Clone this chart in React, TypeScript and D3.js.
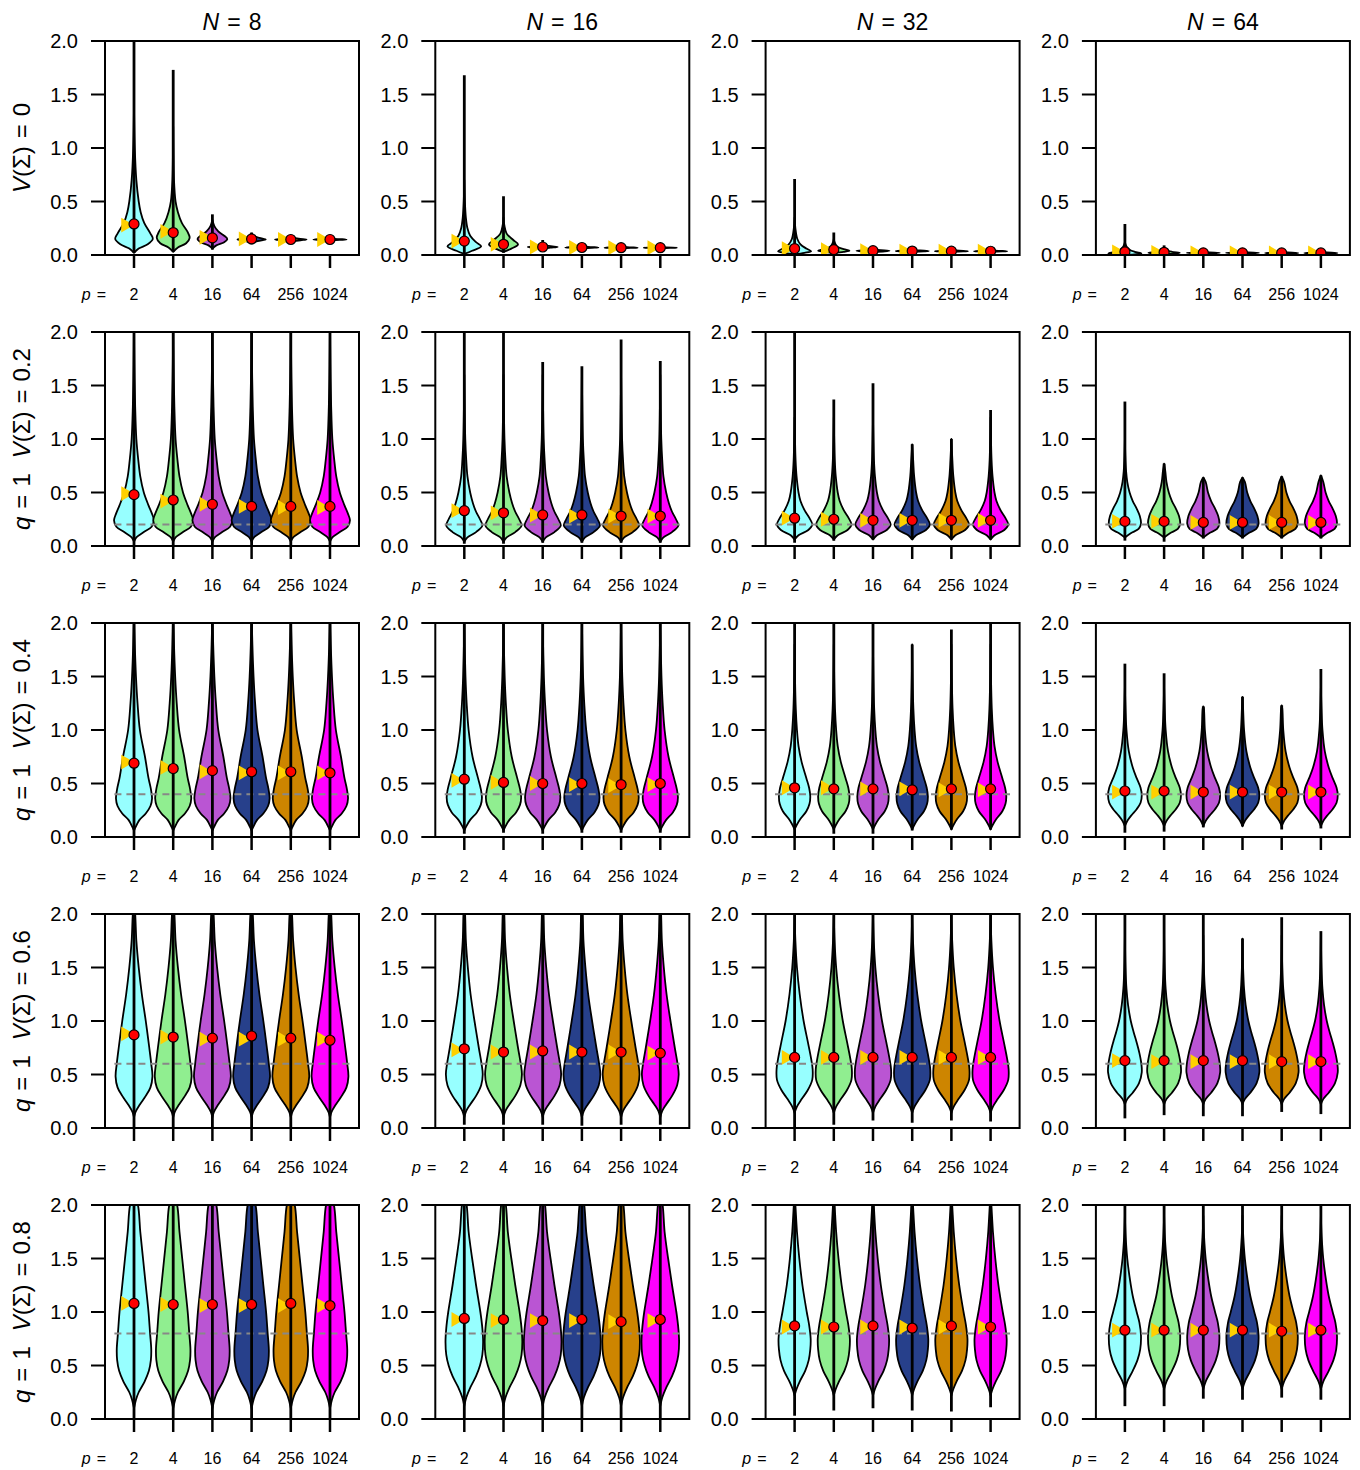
import React from "react";
import * as d3 from "d3";

type Pt = [number, number];

const pLabels = ["2", "4", "16", "64", "256", "1024"];
const nLabels = ["8", "16", "32", "64"];
const trueVals = [0, 0.2, 0.4, 0.6, 0.8];
const violinFills = ["#97FFFF", "#90EE90", "#BA55D3", "#27408B", "#CD8500", "#FF00FF"];
const yTicks = [0, 0.5, 1, 1.5, 2];

// [row][col][p] : red dot (mean)
const meanVals = [
  [[0.29, 0.21, 0.16, 0.15, 0.145, 0.145], [0.13, 0.1, 0.075, 0.07, 0.068, 0.068], [0.06, 0.05, 0.04, 0.037, 0.036, 0.035], [0.03, 0.025, 0.02, 0.02, 0.019, 0.019]],
  [[0.48, 0.43, 0.39, 0.37, 0.37, 0.37], [0.33, 0.31, 0.29, 0.29, 0.28, 0.28], [0.26, 0.25, 0.24, 0.24, 0.24, 0.24], [0.23, 0.23, 0.22, 0.22, 0.22, 0.22]],
  [[0.69, 0.64, 0.62, 0.61, 0.61, 0.6], [0.54, 0.51, 0.5, 0.5, 0.49, 0.5], [0.46, 0.45, 0.45, 0.44, 0.45, 0.45], [0.43, 0.43, 0.42, 0.42, 0.42, 0.42]],
  [[0.87, 0.85, 0.84, 0.86, 0.84, 0.82], [0.74, 0.71, 0.72, 0.71, 0.71, 0.7], [0.66, 0.66, 0.66, 0.66, 0.66, 0.66], [0.63, 0.63, 0.63, 0.63, 0.62, 0.62]],
  [[1.08, 1.07, 1.07, 1.07, 1.08, 1.06], [0.94, 0.93, 0.92, 0.93, 0.91, 0.93], [0.87, 0.86, 0.87, 0.85, 0.87, 0.86], [0.83, 0.83, 0.83, 0.83, 0.82, 0.83]],
];

// [row][col][p] : yellow triangle
const triVals = [
  [[0.28, 0.22, 0.165, 0.15, 0.145, 0.145], [0.13, 0.1, 0.075, 0.07, 0.068, 0.068], [0.06, 0.05, 0.04, 0.037, 0.036, 0.035], [0.03, 0.025, 0.02, 0.02, 0.019, 0.019]],
  [[0.49, 0.42, 0.39, 0.37, 0.36, 0.36], [0.33, 0.31, 0.29, 0.28, 0.28, 0.28], [0.26, 0.25, 0.24, 0.24, 0.24, 0.24], [0.23, 0.23, 0.22, 0.22, 0.22, 0.22]],
  [[0.7, 0.65, 0.61, 0.6, 0.6, 0.6], [0.53, 0.51, 0.5, 0.49, 0.48, 0.49], [0.46, 0.46, 0.45, 0.45, 0.44, 0.44], [0.42, 0.42, 0.42, 0.42, 0.42, 0.42]],
  [[0.88, 0.85, 0.83, 0.83, 0.83, 0.83], [0.73, 0.71, 0.71, 0.71, 0.71, 0.7], [0.66, 0.66, 0.66, 0.66, 0.66, 0.66], [0.63, 0.62, 0.62, 0.62, 0.62, 0.62]],
  [[1.08, 1.07, 1.06, 1.06, 1.06, 1.06], [0.93, 0.92, 0.92, 0.92, 0.91, 0.92], [0.86, 0.86, 0.86, 0.86, 0.86, 0.86], [0.83, 0.83, 0.83, 0.83, 0.83, 0.83]],
];

// whisker ends
const minVals = [
  [[0.02, 0.03, 0.05, 0.1, 0.12, 0.13], [0.0, 0.02, 0.06, 0.06, 0.062, 0.062], [0.0, 0.02, 0.025, 0.03, 0.03, 0.03], [0.0, 0.01, 0.012, 0.012, 0.012, 0.012]],
  [[0, 0, 0, 0, 0, 0], [0.02, 0.02, 0.03, 0.03, 0.03, 0.03], [0.03, 0.05, 0.06, 0.06, 0.06, 0.06], [0.05, 0.04, 0.07, 0.07, 0.07, 0.07]],
  [[0, 0, 0, 0, 0, 0], [0.03, 0.04, 0.03, 0.04, 0.04, 0.04], [0.0, 0.03, 0.03, 0.06, 0.07, 0.07], [0.04, 0.05, 0.09, 0.1, 0.07, 0.08]],
  [[0, 0, 0, 0, 0, 0], [0.03, 0.03, 0.03, 0.02, 0.03, 0.03], [0.0, 0.03, 0.07, 0.05, 0.07, 0.06], [0.09, 0.12, 0.11, 0.11, 0.15, 0.13]],
  [[0, 0, 0, 0, 0, 0], [0, 0, 0, 0, 0, 0], [0.03, 0.08, 0.1, 0.08, 0.07, 0.11], [0.12, 0.12, 0.19, 0.18, 0.2, 0.18]],
];
const maxVals = [
  [[2.1, 1.73, 0.38, 0.21, 0.17, 0.16], [1.68, 0.55, 0.14, 0.09, 0.085, 0.085], [0.71, 0.21, 0.06, 0.05, 0.045, 0.045], [0.29, 0.09, 0.04, 0.035, 0.03, 0.03]],
  [[2.1, 2.1, 2.1, 2.1, 2.1, 2.1], [2.1, 2.1, 1.72, 1.68, 1.93, 1.73], [2.1, 1.37, 1.52, 0.95, 1.0, 1.27], [1.35, 0.77, 0.64, 0.64, 0.65, 0.66]],
  [[2.1, 2.1, 2.1, 2.1, 2.1, 2.1], [2.1, 2.1, 2.1, 2.1, 2.1, 2.1], [2.1, 2.1, 2.1, 1.8, 1.94, 2.1], [1.62, 1.53, 1.22, 1.31, 1.23, 1.57]],
  [[2.1, 2.1, 2.1, 2.1, 2.1, 2.1], [2.1, 2.1, 2.1, 2.1, 2.1, 2.1], [2.1, 2.1, 2.1, 2.1, 2.1, 2.1], [2.1, 2.1, 2.1, 1.77, 1.97, 1.84]],
  [[2.1, 2.1, 2.1, 2.1, 2.1, 2.1], [2.1, 2.1, 2.1, 2.1, 2.1, 2.1], [2.1, 2.1, 2.1, 2.1, 2.1, 2.1], [2.1, 2.1, 2.1, 2.1, 2.1, 2.1]],
];

// violin outlines for V(Sigma)=0 row: [col][p] -> [value, half width (in category units)]
const topRowBodies: Pt[][][] = [
  [
    [[0.02, 0], [0.06, 0.12], [0.1, 0.35], [0.15, 0.48], [0.2, 0.42], [0.3, 0.26], [0.4, 0.17], [0.5, 0.12], [0.7, 0.06], [1.0, 0.02], [1.4, 0]],
    [[0.03, 0], [0.07, 0.12], [0.11, 0.33], [0.16, 0.42], [0.22, 0.36], [0.3, 0.22], [0.4, 0.12], [0.5, 0.06], [0.7, 0.02], [1.0, 0.005], [1.2, 0]],
    [[0.06, 0], [0.09, 0.1], [0.12, 0.3], [0.15, 0.38], [0.18, 0.3], [0.22, 0.15], [0.27, 0.05], [0.33, 0]],
    [[0.11, 0], [0.13, 0.15], [0.145, 0.36], [0.16, 0.2], [0.18, 0.05], [0.2, 0]],
    [[0.125, 0], [0.138, 0.25], [0.145, 0.4], [0.152, 0.2], [0.165, 0]],
    [[0.135, 0], [0.141, 0.25], [0.145, 0.42], [0.149, 0.2], [0.155, 0]],
  ],
  [
    [[0.01, 0], [0.04, 0.2], [0.08, 0.43], [0.12, 0.3], [0.18, 0.15], [0.25, 0.08], [0.35, 0.04], [0.5, 0.015], [0.7, 0]],
    [[0.03, 0], [0.06, 0.2], [0.1, 0.37], [0.14, 0.25], [0.2, 0.08], [0.28, 0.02], [0.35, 0]],
    [[0.06, 0], [0.068, 0.2], [0.075, 0.38], [0.085, 0.15], [0.1, 0.03], [0.12, 0]],
    [[0.062, 0], [0.067, 0.25], [0.07, 0.42], [0.076, 0.15], [0.085, 0]],
    [[0.062, 0], [0.066, 0.25], [0.068, 0.42], [0.073, 0.15], [0.08, 0]],
    [[0.063, 0], [0.066, 0.25], [0.068, 0.42], [0.071, 0.15], [0.076, 0]],
  ],
  [
    [[0.005, 0], [0.02, 0.25], [0.035, 0.42], [0.06, 0.3], [0.1, 0.15], [0.15, 0.07], [0.25, 0.02], [0.35, 0]],
    [[0.02, 0], [0.03, 0.25], [0.04, 0.4], [0.055, 0.25], [0.08, 0.08], [0.12, 0.02], [0.15, 0]],
    [[0.03, 0], [0.035, 0.3], [0.04, 0.42], [0.045, 0.2], [0.05, 0]],
    [[0.03, 0], [0.034, 0.3], [0.037, 0.42], [0.042, 0.2], [0.048, 0]],
    [[0.03, 0], [0.033, 0.3], [0.036, 0.42], [0.04, 0.2], [0.045, 0]],
    [[0.03, 0], [0.033, 0.3], [0.035, 0.42], [0.039, 0.2], [0.044, 0]],
  ],
  [
    [[0.0, 0], [0.008, 0.3], [0.015, 0.42], [0.03, 0.25], [0.05, 0.12], [0.08, 0.04], [0.12, 0]],
    [[0.01, 0], [0.015, 0.3], [0.02, 0.4], [0.03, 0.2], [0.045, 0.05], [0.06, 0]],
    [[0.012, 0], [0.016, 0.3], [0.02, 0.42], [0.025, 0.15], [0.03, 0]],
    [[0.012, 0], [0.016, 0.3], [0.02, 0.42], [0.025, 0.15], [0.03, 0]],
    [[0.012, 0], [0.015, 0.3], [0.019, 0.42], [0.024, 0.15], [0.028, 0]],
    [[0.012, 0], [0.015, 0.3], [0.019, 0.42], [0.024, 0.15], [0.028, 0]],
  ],
];

// violin outlines for q = 1 rows, shared by the six p in a panel: [row-1][col]
const panelBodies: Pt[][][] = [
  [
    [[0.04, 0], [0.08, 0.06], [0.13, 0.25], [0.18, 0.45], [0.24, 0.51], [0.3, 0.46], [0.38, 0.37], [0.5, 0.25], [0.65, 0.16], [0.8, 0.11], [1.0, 0.06], [1.3, 0.03], [1.7, 0.01], [2.1, 0]],
    [[0.04, 0], [0.08, 0.08], [0.13, 0.3], [0.19, 0.46], [0.25, 0.4], [0.32, 0.3], [0.4, 0.22], [0.5, 0.15], [0.65, 0.08], [0.8, 0.05], [1.0, 0.025], [1.3, 0.01], [1.6, 0]],
    [[0.06, 0], [0.1, 0.1], [0.15, 0.35], [0.2, 0.45], [0.26, 0.38], [0.33, 0.26], [0.42, 0.15], [0.5, 0.1], [0.65, 0.05], [0.8, 0.025], [1.0, 0.01], [1.2, 0]],
    [[0.08, 0], [0.12, 0.15], [0.16, 0.35], [0.21, 0.41], [0.28, 0.38], [0.35, 0.3], [0.42, 0.2], [0.5, 0.12], [0.6, 0.06], [0.7, 0.03], [0.85, 0.01], [1.0, 0]],
  ],
  [
    [[0.06, 0], [0.1, 0.05], [0.16, 0.14], [0.22, 0.3], [0.29, 0.42], [0.36, 0.46], [0.45, 0.43], [0.55, 0.37], [0.75, 0.28], [1.0, 0.15], [1.25, 0.09], [1.5, 0.05], [1.8, 0.02], [2.1, 0]],
    [[0.06, 0], [0.1, 0.05], [0.16, 0.15], [0.23, 0.32], [0.3, 0.42], [0.37, 0.45], [0.45, 0.42], [0.55, 0.35], [0.75, 0.21], [1.0, 0.11], [1.25, 0.06], [1.5, 0.03], [1.8, 0.01], [2.1, 0]],
    [[0.07, 0], [0.11, 0.05], [0.17, 0.15], [0.24, 0.3], [0.31, 0.38], [0.38, 0.4], [0.46, 0.37], [0.55, 0.3], [0.7, 0.18], [0.85, 0.1], [1.0, 0.06], [1.2, 0.03], [1.5, 0.01], [1.8, 0]],
    [[0.1, 0], [0.15, 0.06], [0.2, 0.16], [0.26, 0.3], [0.32, 0.4], [0.39, 0.43], [0.46, 0.4], [0.55, 0.3], [0.65, 0.2], [0.8, 0.1], [1.0, 0.04], [1.2, 0.015], [1.4, 0]],
  ],
  [
    [[0.1, 0], [0.15, 0.04], [0.22, 0.15], [0.3, 0.3], [0.38, 0.42], [0.48, 0.47], [0.6, 0.44], [0.75, 0.39], [1.0, 0.3], [1.25, 0.2], [1.5, 0.12], [1.75, 0.06], [2.0, 0.03], [2.2, 0]],
    [[0.1, 0], [0.16, 0.05], [0.22, 0.15], [0.3, 0.3], [0.4, 0.43], [0.5, 0.47], [0.6, 0.44], [0.75, 0.37], [1.0, 0.26], [1.25, 0.16], [1.5, 0.09], [1.75, 0.04], [2.0, 0.02], [2.2, 0]],
    [[0.14, 0], [0.2, 0.06], [0.27, 0.18], [0.35, 0.33], [0.45, 0.45], [0.55, 0.46], [0.65, 0.42], [0.8, 0.34], [1.0, 0.23], [1.25, 0.13], [1.5, 0.06], [1.75, 0.02], [2.0, 0]],
    [[0.22, 0], [0.27, 0.06], [0.33, 0.2], [0.42, 0.36], [0.52, 0.43], [0.6, 0.42], [0.7, 0.37], [0.8, 0.3], [0.9, 0.22], [1.0, 0.15], [1.15, 0.08], [1.3, 0.04], [1.5, 0.015], [1.8, 0]],
  ],
  [
    [[0.1, 0], [0.18, 0.05], [0.25, 0.12], [0.35, 0.27], [0.45, 0.38], [0.55, 0.43], [0.65, 0.44], [0.8, 0.41], [1.0, 0.37], [1.25, 0.3], [1.5, 0.23], [1.75, 0.16], [2.0, 0.1], [2.3, 0.04], [2.6, 0]],
    [[0.12, 0], [0.2, 0.05], [0.3, 0.16], [0.4, 0.3], [0.5, 0.4], [0.6, 0.46], [0.72, 0.48], [0.85, 0.46], [1.0, 0.41], [1.25, 0.3], [1.5, 0.2], [1.75, 0.11], [2.0, 0.06], [2.3, 0.02], [2.5, 0]],
    [[0.22, 0], [0.28, 0.05], [0.35, 0.13], [0.45, 0.27], [0.55, 0.36], [0.65, 0.4], [0.75, 0.41], [0.88, 0.37], [1.0, 0.31], [1.25, 0.2], [1.5, 0.12], [1.75, 0.06], [2.0, 0.02], [2.2, 0]],
    [[0.28, 0], [0.35, 0.06], [0.45, 0.2], [0.55, 0.32], [0.65, 0.39], [0.78, 0.41], [0.9, 0.37], [1.0, 0.3], [1.15, 0.2], [1.3, 0.13], [1.5, 0.06], [1.7, 0.02], [1.9, 0]],
  ],
];

const font = "'Liberation Sans', Arial, Helvetica, sans-serif";
const panelW = 254;
const panelH = 214;
const gridLeft = 105;
const gridTop = 41;
const colStep = 330.3;
const rowStep = 291;

const triPath = d3.symbol(d3.symbolTriangle, 95)() as string;

// the density is cut where the sample ends (upper whisker)
function truncate(body: Pt[], hi: number): Pt[] {
  if (hi >= body[body.length - 1][0]) return body;
  const kept = body.filter((d) => d[0] < hi);
  return [...kept, [hi, 0]];
}

function Panel({ row, col }: { row: number; col: number }) {
  const left = gridLeft + col * colStep;
  const top = gridTop + row * rowStep;
  const bottom = top + panelH;
  const x = d3.scaleLinear().domain([0.26, 6.74]).range([left, left + panelW]);
  const y = d3.scaleLinear().domain([0, 2]).range([bottom, top]);
  const step = x(2) - x(1);
  const clipId = `clip-${row}-${col}`;
  const bodies = row === 0 ? topRowBodies[col] : pLabels.map(() => panelBodies[row - 1][col]);

  const violin = (cx: number) =>
    d3
      .area<Pt>()
      .y((d) => y(d[0]))
      .x0((d) => cx - Math.max(0, d[1]) * step)
      .x1((d) => cx + Math.max(0, d[1]) * step)
      .curve(d3.curveCatmullRom.alpha(0.5));

  return (
    <g>
      <defs>
        <clipPath id={clipId}>
          <rect x={left} y={top} width={panelW} height={panelH} />
        </clipPath>
      </defs>
      <g clipPath={`url(#${clipId})`}>
        {pLabels.map((p, i) => {
          const cx = x(i + 1);
          return (
            <path
              key={"v" + p}
              d={violin(cx)(truncate(bodies[i], maxVals[row][col][i])) as string}
              fill={violinFills[i]}
              stroke="#000"
              strokeWidth={1.8}
              strokeLinejoin="round"
            />
          );
        })}
        <line
          x1={x(0.5)}
          x2={x(6.5)}
          y1={y(trueVals[row])}
          y2={y(trueVals[row])}
          stroke="#888888"
          strokeWidth={2}
          strokeDasharray="7,5"
        />
        {pLabels.map((p, i) => (
          <line
            key={"w" + p}
            x1={x(i + 1)}
            x2={x(i + 1)}
            y1={y(minVals[row][col][i])}
            y2={y(maxVals[row][col][i])}
            stroke="#000"
            strokeWidth={2.8}
          />
        ))}
        {pLabels.map((p, i) => {
          const cx = x(i + 1);
          const yt = y(triVals[row][col][i]);
          return (
            <path
              key={"t" + p}
              d={triPath}
              transform={`translate(${cx - 8.5},${yt}) rotate(90)`}
              fill="#FFD000"
            />
          );
        })}
        {pLabels.map((p, i) => (
          <circle
            key={"m" + p}
            cx={x(i + 1)}
            cy={y(meanVals[row][col][i])}
            r={5}
            fill="#FF0000"
            stroke="#000"
            strokeWidth={1.2}
          />
        ))}
      </g>
      <rect x={left} y={top} width={panelW} height={panelH} fill="none" stroke="#000" strokeWidth={2} />
      {yTicks.map((t) => (
        <g key={"y" + t}>
          <line x1={left - 14} x2={left} y1={y(t)} y2={y(t)} stroke="#000" strokeWidth={2} />
          <text x={left - 27} y={y(t)} dy="0.36em" textAnchor="end" fontSize={20} fontFamily={font}>
            {t.toFixed(1)}
          </text>
        </g>
      ))}
      {pLabels.map((p, i) => (
        <g key={"x" + p}>
          <line x1={x(i + 1)} x2={x(i + 1)} y1={bottom + 1} y2={bottom + 13} stroke="#000" strokeWidth={2.5} />
          <text x={x(i + 1)} y={bottom + 45} textAnchor="middle" fontSize={16} fontFamily={font}>
            {p}
          </text>
        </g>
      ))}
      <text x={left + 1} y={bottom + 45} textAnchor="end" fontSize={16} fontFamily={font}>
        <tspan fontStyle="italic">p</tspan>
        <tspan dx={6}>=</tspan>
      </text>
    </g>
  );
}

function RowLabel({ row }: { row: number }) {
  const cy = gridTop + row * rowStep + panelH / 2;
  return (
    <text
      transform={`translate(30,${cy}) rotate(-90)`}
      textAnchor="middle"
      fontSize={24}
      fontFamily={font}
    >
      {row > 0 && (
        <>
          <tspan fontStyle="italic">q</tspan>
          <tspan dx={8}>=</tspan>
          <tspan dx={8}>1</tspan>
        </>
      )}
      <tspan dx={row > 0 ? 15 : 0} fontStyle="italic">V</tspan>
      <tspan>(Σ)</tspan>
      <tspan dx={8}>=</tspan>
      <tspan dx={8}>{trueVals[row] === 0 ? "0" : String(trueVals[row])}</tspan>
    </text>
  );
}

export default function App() {
  return (
    <svg
      width={1360}
      height={1470}
      style={{ position: "absolute", left: 0, top: 0, background: "#fff" }}
    >
      <rect width={1360} height={1470} fill="#fff" />
      {nLabels.map((n, c) => (
        <text
          key={"n" + n}
          x={gridLeft + c * colStep + panelW / 2}
          y={30}
          textAnchor="middle"
          fontSize={23}
          fontFamily={font}
        >
          <tspan fontStyle="italic">N</tspan>
          <tspan dx={8}>=</tspan>
          <tspan dx={8}>{n}</tspan>
        </text>
      ))}
      {trueVals.map((v, r) => (
        <RowLabel key={"r" + r} row={r} />
      ))}
      {trueVals.map((v, r) =>
        nLabels.map((n, c) => <Panel key={`p${r}-${c}`} row={r} col={c} />)
      )}
    </svg>
  );
}
